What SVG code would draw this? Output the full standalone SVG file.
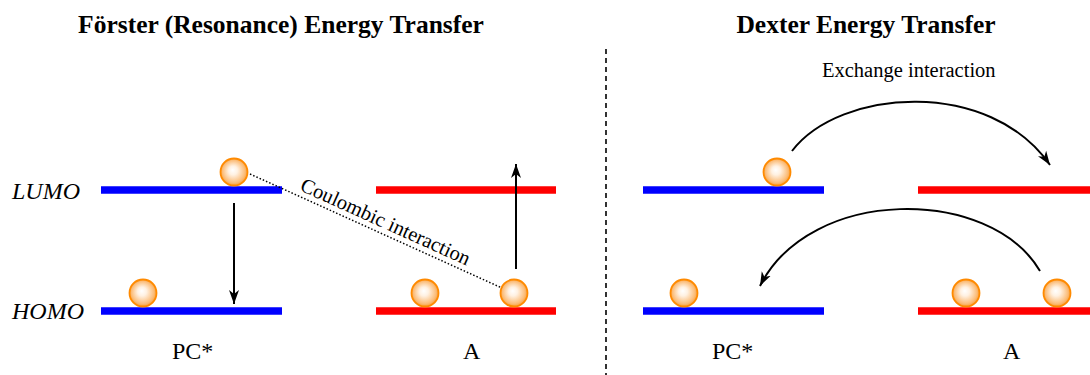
<svg xmlns="http://www.w3.org/2000/svg" width="1090" height="375" viewBox="0 0 1090 375">
<defs>
<radialGradient id="ballGrad" cx="0.5" cy="0.5" r="0.55" fx="0.45" fy="0.42">
<stop offset="0" stop-color="#ffffff"/>
<stop offset="0.3" stop-color="#fff1e2"/>
<stop offset="0.75" stop-color="#fbbd7a"/>
<stop offset="1" stop-color="#f7931e"/>
</radialGradient>
<marker id="arrow" markerWidth="16" markerHeight="12" refX="14" refY="6" orient="auto" markerUnits="userSpaceOnUse">
<path d="M0,1 L14,6 L0,11 L4,6 Z" fill="#000"/>
</marker>
</defs>
<style>
.title{font-family:"Liberation Serif",serif;font-weight:bold;font-size:25.5px;fill:#000;text-anchor:middle}
.lab{font-family:"Liberation Serif",serif;font-size:24px;fill:#000}
.it{font-style:italic}
.small{font-family:"Liberation Serif",serif;font-size:20.5px;fill:#000}
.blue{stroke:#0000ff;stroke-width:7.5}
.red{stroke:#ff0000;stroke-width:7.5}
.ball{fill:url(#ballGrad);stroke:#ff8a00;stroke-width:1.8}
.arr{stroke:#000;stroke-width:2;fill:none;marker-end:url(#arrow)}
</style>
<rect width="1090" height="375" fill="#fff"/>
<text class="title" x="281" y="33">Förster (Resonance) Energy Transfer</text>
<text class="title" x="866" y="33">Dexter Energy Transfer</text>
<line x1="606" y1="49" x2="606" y2="375" stroke="#000" stroke-width="1.6" stroke-dasharray="5 4"/>
<text class="lab it" x="12" y="199">LUMO</text>
<text class="lab it" x="12" y="319">HOMO</text>
<g id="forster-pc">
<line class="blue" x1="101" y1="190" x2="282" y2="190"/>
<line class="blue" x1="101" y1="311" x2="282" y2="311"/>
<circle class="ball" cx="234" cy="172" r="13.5"/>
<circle class="ball" cx="143" cy="293" r="13.5"/>
<text class="lab" x="172" y="359">PC*</text>
</g>
<g id="forster-a">
<line class="red" x1="376" y1="190" x2="556" y2="190"/>
<line class="red" x1="376" y1="311" x2="556" y2="311"/>
<circle class="ball" cx="425" cy="293" r="13.5"/>
<circle class="ball" cx="514" cy="293" r="13.5"/>
<text class="lab" x="463" y="359">A</text>
</g>
<g id="dexter-pc">
<line class="blue" x1="643" y1="190" x2="824" y2="190"/>
<line class="blue" x1="643" y1="311" x2="824" y2="311"/>
<circle class="ball" cx="777" cy="172" r="13.5"/>
<circle class="ball" cx="684" cy="293" r="13.5"/>
<text class="lab" x="712" y="359">PC*</text>
</g>
<g id="dexter-a">
<line class="red" x1="918" y1="190" x2="1090" y2="190"/>
<line class="red" x1="918" y1="311" x2="1090" y2="311"/>
<circle class="ball" cx="966" cy="293" r="13.5"/>
<circle class="ball" cx="1057" cy="293" r="13.5"/>
<text class="lab" x="1003" y="359">A</text>
</g>
<g id="connectors">
<line class="arr" x1="234" y1="203" x2="234" y2="304"/>
<line class="arr" x1="516" y1="269" x2="516" y2="164"/>
<line x1="250" y1="174" x2="502" y2="288" stroke="#000" stroke-width="1.5" stroke-dasharray="1.5 2"/>
<text class="small" transform="translate(299,190) rotate(24.3)">Coulombic interaction</text>
<path class="arr" d="M792,151 C840,88 990,78 1050,165"/>
<path class="arr" d="M1040,271 C990,186 810,186 760,286"/>
<text class="small" x="822" y="77">Exchange interaction</text>
</g>
</svg>
